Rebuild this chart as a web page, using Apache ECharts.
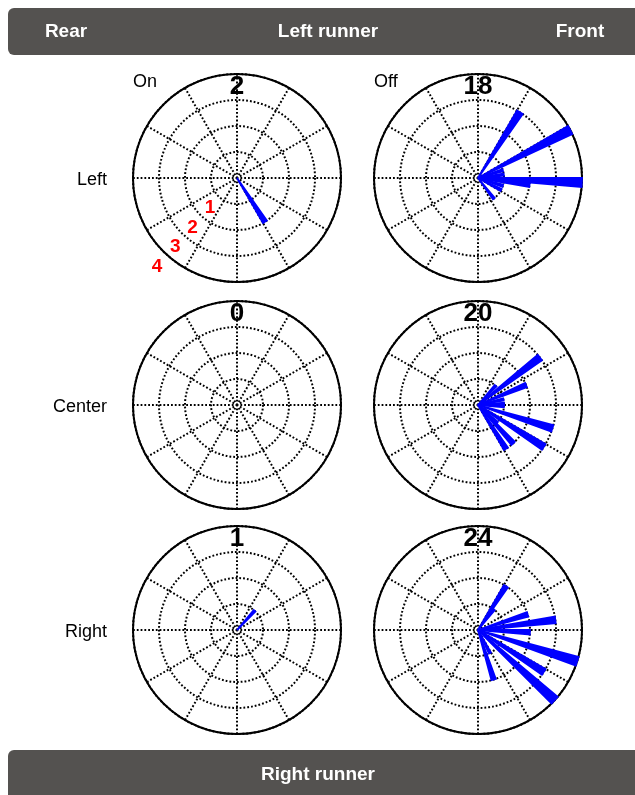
<!DOCTYPE html>
<html>
<head>
<meta charset="utf-8">
<script src="https://cdn.jsdelivr.net/npm/echarts@6/dist/echarts.min.js"></script>
<style>
html,body{margin:0;padding:0;background:#fff;}
#main{width:635px;height:795px;}
</style>
</head>
<body>
<div id="main"></div>
<script>
// ---- data ----
const headerLabels = ['Rear', 'Left runner', 'Front'];
const footerLabel = 'Right runner';
const rowLabels = ['Left', 'Center', 'Right'];
const colLabels = ['On', 'Off'];
const ringTicks = [1, 2, 3, 4];
const ringLabels = ['1', '2', '3', '4'];
const binWidth = 5; // degrees

// bin centre angles (deg, counter-clockwise from right) and counts
const leftOnAngles = [-57.5];
const leftOnCounts = [2];
const leftOffAngles = [57.5, 27.5, -2.5, -7.5, 7.5, 17.5, -17.5, -27.5, -52.5];
const leftOffCounts = [3, 4, 4, 2, 1, 1, 1, 1, 1];
const centerOnAngles = [];
const centerOnCounts = [];
const centerOffAngles = [37.5, 47.5, 2.5, 12.5, -2.5, -17.5, -32.5, -42.5, -47.5, -57.5, 22.5];
const centerOffCounts = [3, 1, 1, 1, 1, 3, 3, 1, 2, 2, 2];
const rightOnAngles = [47.5];
const rightOnCounts = [1];
const rightOffAngles = [57.5, 52.5, 17.5, 7.5, -2.5, -17.5, -32.5, -42.5, -62.5, -72.5];
const rightOffCounts = [2, 1, 2, 3, 2, 4, 3, 4, 1, 2];

const totals = [
  [2, 18],
  [0, 20],
  [1, 24]
];

const panels = [
  [leftOnAngles, leftOnCounts], [leftOffAngles, leftOffCounts],
  [centerOnAngles, centerOnCounts], [centerOffAngles, centerOffCounts],
  [rightOnAngles, rightOnCounts], [rightOffAngles, rightOffCounts]
];

// ---- layout ----
const colX = [237, 478];
const rowY = [178, 405, 630];
const R = 104;
const FONT = 'Liberation Sans, Arial, sans-serif';

const polar = [], angleAxis = [], radiusAxis = [], series = [], graphic = [];
const dotted = {color: '#000', width: 2, type: [1.8, 2], cap: 'butt'};

panels.forEach((p, i) => {
  const row = Math.floor(i / 2), col = i % 2;
  polar.push({center: [colX[col], rowY[row]], radius: R});
  angleAxis.push({
    polarIndex: i, type: 'value', min: 0, max: 360, interval: 30,
    startAngle: 0, clockwise: false,
    axisLine: {show: true, lineStyle: {color: '#000', width: 2}},
    axisTick: {show: false}, axisLabel: {show: false},
    splitLine: {show: true, lineStyle: dotted}
  });
  radiusAxis.push({
    polarIndex: i, type: 'value', min: 0, max: 4, interval: 1,
    axisLine: {show: false}, axisTick: {show: false}, axisLabel: {show: false},
    splitLine: {show: true, lineStyle: dotted}
  });
  const data = p[0].map((a, k) => [p[1][k], a]);
  series.push({
    type: 'custom', coordinateSystem: 'polar', polarIndex: i,
    data: data, z: 5, clip: false,
    renderItem: function (params, api) {
      const r = api.value(0), a = api.value(1);
      const c = api.coord([0, a]);
      const p1 = api.coord([r, a - binWidth / 2]);
      const p2 = api.coord([r, a + binWidth / 2]);
      return {type: 'polygon', shape: {points: [c, p1, p2]}, style: {fill: '#0000ff', stroke: '#0000ff', lineWidth: 1.8, lineJoin: 'miter'}};
    }
  });
  // totals
  graphic.push({
    type: 'text', x: colX[col], y: rowY[row] - 91, z: 10,
    style: {text: String(totals[row][col]), fill: '#000', font: 'bold 26px ' + FONT, align: 'center', verticalAlign: 'middle'}
  });
});

// red ring labels on first panel (drawn through the polar scale)
series.push({
  type: 'custom', coordinateSystem: 'polar', polarIndex: 0, z: 6, clip: false,
  data: ringTicks.map((t, k) => ({value: [t + (k === 3 ? 0.6 : 0.55), 228], name: ringLabels[k]})),
  renderItem: function (params, api) {
    const pt = api.coord([api.value(0), api.value(1)]);
    return {type: 'text', x: pt[0], y: pt[1], style: {text: ringLabels[params.dataIndex], fill: '#ff0000', font: 'bold 19px ' + FONT, align: 'center', verticalAlign: 'middle'}};
  }
});

// row labels
rowLabels.forEach((t, r) => {
  graphic.push({type: 'text', x: 107, y: rowY[r] + 2, style: {text: t, fill: '#000', font: '18px ' + FONT, align: 'right', verticalAlign: 'middle'}});
});
// column labels
graphic.push({type: 'text', x: 133, y: 82, style: {text: colLabels[0], fill: '#000', font: '18px ' + FONT, align: 'left', verticalAlign: 'middle'}});
graphic.push({type: 'text', x: 374, y: 82, style: {text: colLabels[1], fill: '#000', font: '18px ' + FONT, align: 'left', verticalAlign: 'middle'}});

// header / footer bars
graphic.push({type: 'rect', shape: {x: 8, y: 8, width: 640, height: 47, r: 6}, style: {fill: '#545250'}, z: 1});
graphic.push({type: 'text', x: 66, y: 32, z: 2, style: {text: headerLabels[0], fill: '#fff', font: 'bold 19px ' + FONT, align: 'center', verticalAlign: 'middle'}});
graphic.push({type: 'text', x: 328, y: 32, z: 2, style: {text: headerLabels[1], fill: '#fff', font: 'bold 19px ' + FONT, align: 'center', verticalAlign: 'middle'}});
graphic.push({type: 'text', x: 580, y: 32, z: 2, style: {text: headerLabels[2], fill: '#fff', font: 'bold 19px ' + FONT, align: 'center', verticalAlign: 'middle'}});
graphic.push({type: 'rect', shape: {x: 8, y: 750, width: 640, height: 60, r: 6}, style: {fill: '#545250'}, z: 1});
graphic.push({type: 'text', x: 318, y: 775, z: 2, style: {text: footerLabel, fill: '#fff', font: 'bold 19px ' + FONT, align: 'center', verticalAlign: 'middle'}});

const chart = echarts.init(document.getElementById('main'), null, {renderer: 'canvas'});
chart.setOption({
  backgroundColor: '#fff',
  animation: false,
  polar: polar,
  angleAxis: angleAxis,
  radiusAxis: radiusAxis,
  series: series,
  graphic: graphic
});
</script>
</body>
</html>
